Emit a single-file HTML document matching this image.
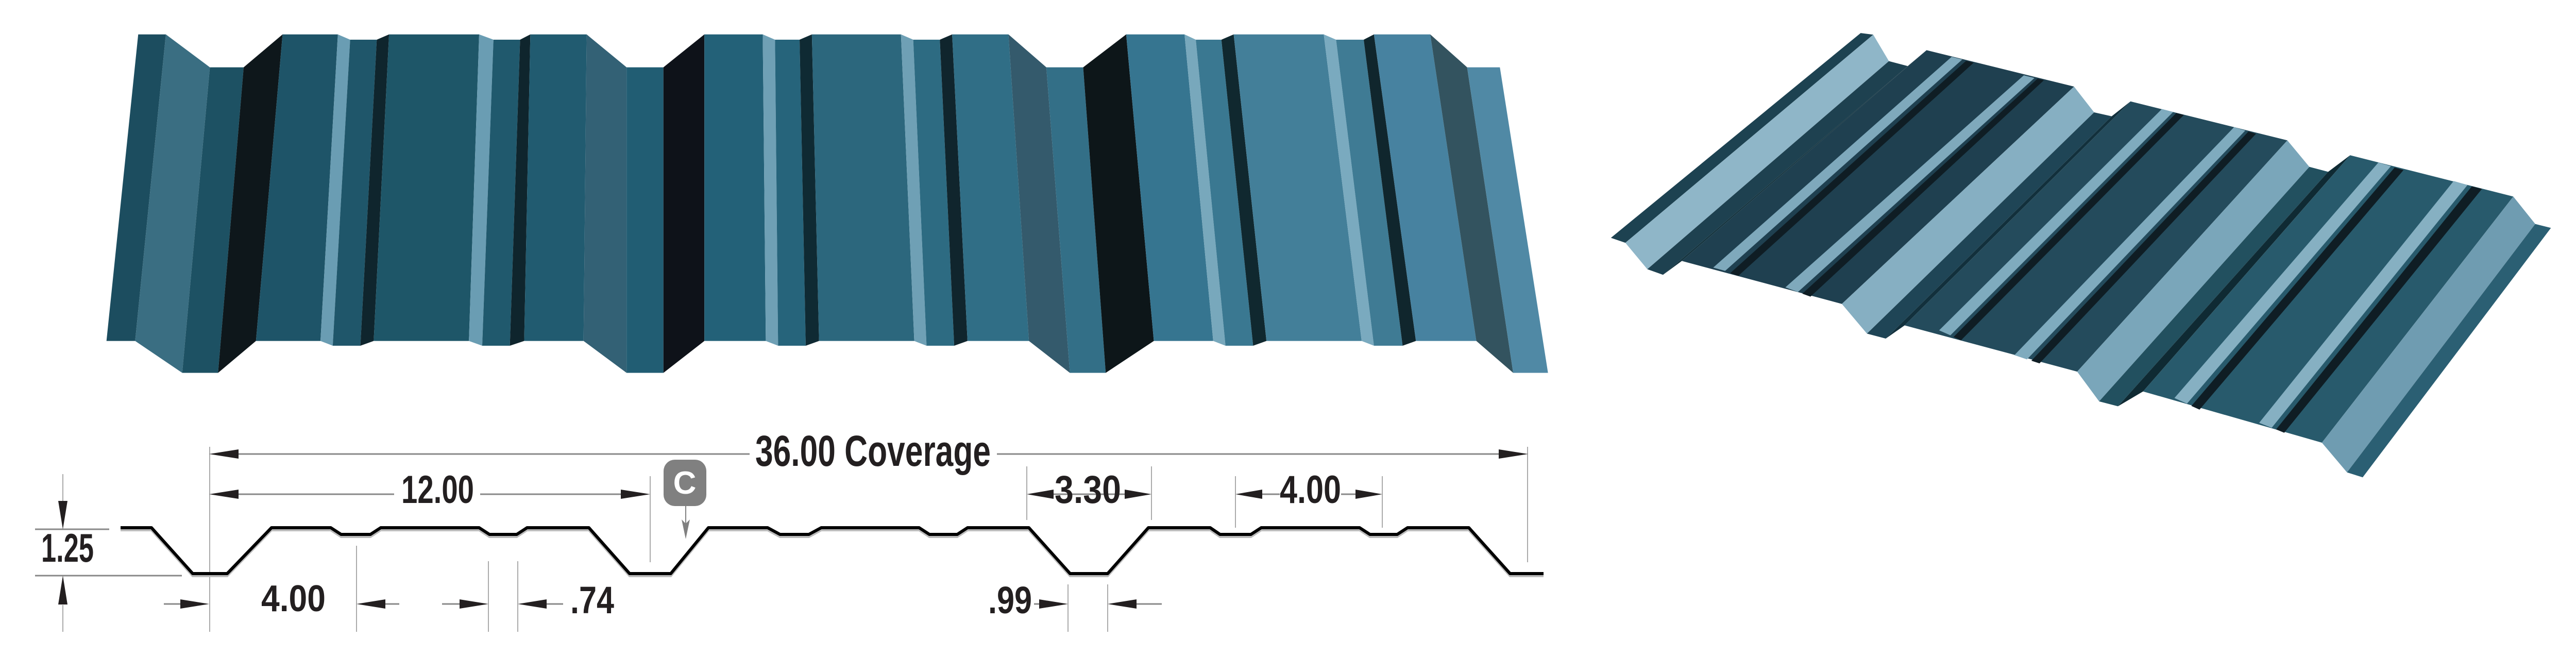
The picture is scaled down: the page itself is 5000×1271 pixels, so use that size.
<!DOCTYPE html>
<html><head><meta charset="utf-8"><style>
html,body{margin:0;padding:0;background:#fff;}
svg{display:block;}
text{font-family:"Liberation Sans Narrow","Liberation Sans",sans-serif;font-weight:bold;fill:#231f20;}
</style></head><body>
<svg width="5000" height="1271" viewBox="0 0 5000 1271" xmlns="http://www.w3.org/2000/svg">
<rect width="5000" height="1271" fill="#fff"/>
<!-- LEFT PANEL -->
<g transform="scale(1.9872,0.4872)">
<polygon points="135,137 162,137 132,1358 104,1358" fill="#1c4d5f"/>
<polygon points="162,137 205,268 178,1485 132,1358" fill="#3a6e82"/>
<polygon points="205,268 238,268 213,1485 178,1485" fill="#1d5163"/>
<polygon points="238,268 276,137 250,1358 213,1485" fill="#0e171b"/>
<polygon points="276,137 330,137 313,1358 250,1358" fill="#1e5468"/>
<polygon points="330,137 342,158 325,1377 313,1358" fill="#6a9db3"/>
<polygon points="342,158 368,158 352,1377 325,1377" fill="#1f566a"/>
<polygon points="368,158 380,137 365,1358 352,1377" fill="#0f252d"/>
<polygon points="380,137 468,137 458,1358 365,1358" fill="#1e5668"/>
<polygon points="468,137 482,158 471,1377 458,1358" fill="#6a9db3"/>
<polygon points="482,158 508,158 498,1377 471,1377" fill="#20596d"/>
<polygon points="508,158 518,137 512,1358 498,1377" fill="#0f252d"/>
<polygon points="518,137 573,137 570,1358 512,1358" fill="#215b70"/>
<polygon points="573,137 612,268 612,1485 570,1358" fill="#336175"/>
<polygon points="612,268 648,268 648,1485 612,1485" fill="#215d73"/>
<polygon points="648,268 688,137 688,1358 648,1485" fill="#0e1219"/>
<polygon points="688,137 745,137 748,1358 688,1358" fill="#236178"/>
<polygon points="745,137 757,158 760,1377 748,1358" fill="#6fa0b5"/>
<polygon points="757,158 781,158 787,1377 760,1377" fill="#26647b"/>
<polygon points="781,158 793,137 800,1358 787,1377" fill="#0f2a33"/>
<polygon points="793,137 880,137 893,1358 800,1358" fill="#2c677d"/>
<polygon points="880,137 892,158 905,1377 893,1358" fill="#6fa0b5"/>
<polygon points="892,158 918,158 932,1377 905,1377" fill="#2d6b82"/>
<polygon points="918,158 930,137 945,1358 932,1377" fill="#10252d"/>
<polygon points="930,137 985,137 1005,1358 945,1358" fill="#306e86"/>
<polygon points="985,137 1022,268 1045,1485 1005,1358" fill="#345a6c"/>
<polygon points="1022,268 1058,268 1080,1485 1045,1485" fill="#336f87"/>
<polygon points="1058,268 1100,137 1127,1358 1080,1485" fill="#0d1619"/>
<polygon points="1100,137 1157,137 1185,1358 1127,1358" fill="#367590"/>
<polygon points="1157,137 1168,158 1197,1377 1185,1358" fill="#78a8bc"/>
<polygon points="1168,158 1193,158 1224,1377 1197,1377" fill="#3a7891"/>
<polygon points="1193,158 1205,137 1237,1358 1224,1377" fill="#10282f"/>
<polygon points="1205,137 1293,137 1330,1358 1237,1358" fill="#437f99"/>
<polygon points="1293,137 1305,158 1342,1377 1330,1358" fill="#7aaabf"/>
<polygon points="1305,158 1332,158 1370,1377 1342,1377" fill="#3f7b94"/>
<polygon points="1332,158 1342,137 1383,1358 1370,1377" fill="#10262d"/>
<polygon points="1342,137 1397,137 1442,1358 1383,1358" fill="#4782a0"/>
<polygon points="1397,137 1433,268 1478,1485 1442,1358" fill="#33535f"/>
<polygon points="1433,268 1465,268 1512,1485 1478,1485" fill="#5089a5"/>
</g>

<!-- PROFILE DRAWING -->
<g stroke="#aaa" stroke-width="2">
<line x1="407" y1="867" x2="407" y2="1226"/>
<line x1="2965" y1="867" x2="2965" y2="1091"/>
<line x1="1262" y1="924" x2="1262" y2="1091"/>
<line x1="1993" y1="905" x2="1993" y2="1009"/>
<line x1="2235" y1="905" x2="2235" y2="1009"/>
<line x1="2398" y1="924" x2="2398" y2="1024"/>
<line x1="2683" y1="924" x2="2683" y2="1024"/>
<line x1="692" y1="1059" x2="692" y2="1226"/>
<line x1="948" y1="1089" x2="948" y2="1226"/>
<line x1="1005" y1="1089" x2="1005" y2="1226"/>
<line x1="2073" y1="1134" x2="2073" y2="1226"/>
<line x1="2150" y1="1134" x2="2150" y2="1226"/>
<line x1="122" y1="920" x2="122" y2="972"/>
<line x1="122" y1="1174" x2="122" y2="1226"/>
</g>
<g stroke="#888" stroke-width="3">
<line x1="68" y1="1027" x2="212" y2="1027"/>
<line x1="68" y1="1117" x2="353" y2="1117"/>
<line x1="122" y1="972" x2="122" y2="1000"/>
<line x1="440" y1="881" x2="1455" y2="881"/>
<line x1="1935" y1="881" x2="2930" y2="881"/>
<line x1="440" y1="959" x2="765" y2="959"/>
<line x1="932" y1="959" x2="1230" y2="959"/>
<line x1="2040" y1="959" x2="2190" y2="959"/>
<line x1="2440" y1="959" x2="2484" y2="959"/>
<line x1="2603" y1="959" x2="2650" y2="959"/>
<line x1="318" y1="1172" x2="360" y2="1172"/>
<line x1="740" y1="1172" x2="775" y2="1172"/>
<line x1="858" y1="1172" x2="900" y2="1172"/>
<line x1="1050" y1="1172" x2="1093" y2="1172"/>
<line x1="2007" y1="1172" x2="2030" y2="1172"/>
<line x1="2195" y1="1172" x2="2255" y2="1172"/>
</g>
<g fill="#231f20">
<polygon points="122,1027 113,972 131,972"/>
<polygon points="122,1117 113,1173 131,1173"/>
<polygon points="406,881 463,872 463,890"/>
<polygon points="2966,881 2909,872 2909,890"/>
<polygon points="406,959 463,950 463,968"/>
<polygon points="1262,959 1205,950 1205,968"/>
<polygon points="1993,959 2045,950 2045,968"/>
<polygon points="2235,959 2183,950 2183,968"/>
<polygon points="2398,959 2450,950 2450,968"/>
<polygon points="2683,959 2631,950 2631,968"/>
<polygon points="406,1172 350,1163 350,1181"/>
<polygon points="692,1172 748,1163 748,1181"/>
<polygon points="948,1172 892,1163 892,1181"/>
<polygon points="1005,1172 1061,1163 1061,1181"/>
<polygon points="2073,1172 2017,1163 2017,1181"/>
<polygon points="2150,1172 2206,1163 2206,1181"/>
</g>
<path d="M234,1029 L294,1029 L374,1118 L441,1118 L527,1029 L642,1029 L662,1042 L719,1042 L739,1029 L930,1029 L950,1042 L1003,1042 L1023,1029 L1143,1029 L1222,1118 L1302,1118 L1375,1029 L1490,1029 L1514,1042 L1570,1042 L1594,1029 L1784,1029 L1804,1042 L1858,1042 L1878,1029 L1997,1029 L2077,1118 L2150,1118 L2229,1029 L2349,1029 L2368,1042 L2428,1042 L2448,1029 L2639,1029 L2659,1042 L2712,1042 L2732,1029 L2851,1029 L2931,1118 L2996,1118" fill="none" stroke="#bbb" stroke-width="4"/>
<path d="M234,1024 L294,1024 L374,1113 L441,1113 L527,1024 L642,1024 L662,1037 L719,1037 L739,1024 L930,1024 L950,1037 L1003,1037 L1023,1024 L1143,1024 L1222,1113 L1302,1113 L1375,1024 L1490,1024 L1514,1037 L1570,1037 L1594,1024 L1784,1024 L1804,1037 L1858,1037 L1878,1024 L1997,1024 L2077,1113 L2150,1113 L2229,1024 L2349,1024 L2368,1037 L2428,1037 L2448,1024 L2639,1024 L2659,1037 L2712,1037 L2732,1024 L2851,1024 L2931,1113 L2996,1113" fill="none" stroke="#000" stroke-width="6" stroke-linejoin="round"/>
<!-- C badge -->
<rect x="1288" y="892" width="83" height="90" rx="22" fill="#808080"/>
<text x="1329" y="958" font-size="62" text-anchor="middle" style="fill:#fff;font-family:'Liberation Sans',sans-serif">C</text>
<line x1="1331" y1="982" x2="1331" y2="1020" stroke="#808080" stroke-width="2"/>
<polygon points="1331,1046 1323,1008 1331,1016 1339,1008" fill="#808080"/>
<!-- labels -->
<text x="1466" y="904" font-size="84" textLength="457" lengthAdjust="spacingAndGlyphs">36.00 Coverage</text>
<text x="779" y="976" font-size="76" textLength="141" lengthAdjust="spacingAndGlyphs">12.00</text>
<text x="2047" y="976" font-size="76" textLength="129" lengthAdjust="spacingAndGlyphs">3.30</text>
<text x="2484" y="976" font-size="76" textLength="119" lengthAdjust="spacingAndGlyphs">4.00</text>
<text x="80" y="1090" font-size="78" textLength="102" lengthAdjust="spacingAndGlyphs">1.25</text>
<text x="507" y="1186" font-size="72" textLength="125" lengthAdjust="spacingAndGlyphs">4.00</text>
<text x="1107" y="1190" font-size="74" textLength="85" lengthAdjust="spacingAndGlyphs">.74</text>
<text x="1918" y="1190" font-size="74" textLength="85" lengthAdjust="spacingAndGlyphs">.99</text>

<!-- RIGHT PANEL -->
<g transform="translate(3100,0) scale(1.218,0.641)">
<polygon points="420,100 440,105 45,735 22,720" fill="#1d4251"/>
<polygon points="440,105 465,185 80,815 45,735" fill="#8fb6c8"/>
<polygon points="465,185 495,200 105,832 80,815" fill="#1e4150"/>
<polygon points="495,200 525,152 135,790 105,832" fill="#163540"/>
<polygon points="525,152 760,262 390,920 135,790" fill="#1f4050"/>
<polygon points="565,172 582,180 204,820 185,810" fill="#7fa9bc"/>
<polygon points="588,184 600,190 225,835 212,827" fill="#0f1d24"/>
<polygon points="680,228 697,236 320,884 300,870" fill="#7fa9bc"/>
<polygon points="702,238 712,243 340,898 327,889" fill="#0f1d24"/>
<polygon points="760,262 792,340 430,1010 390,920" fill="#86afc2"/>
<polygon points="792,340 820,352 460,1025 430,1010" fill="#1f4556"/>
<polygon points="820,352 850,307 490,985 460,1025" fill="#12303c"/>
<polygon points="850,307 1100,425 765,1125 490,985" fill="#244b5c"/>
<polygon points="900,330 918,339 563,1015 545,1000" fill="#7fabbe"/>
<polygon points="923,342 935,348 580,1030 568,1020" fill="#0f1d24"/>
<polygon points="1015,385 1033,395 685,1088 665,1075" fill="#7fabbe"/>
<polygon points="1038,398 1050,405 705,1100 692,1092" fill="#0f1d24"/>
<polygon points="1100,425 1135,505 800,1215 765,1125" fill="#7aa6ba"/>
<polygon points="1135,505 1165,520 830,1230 800,1215" fill="#22505f"/>
<polygon points="1165,520 1200,470 870,1185 830,1230" fill="#0f2a33"/>
<polygon points="1200,470 1460,595 1155,1340 870,1185" fill="#285a6c"/>
<polygon points="1245,492 1265,503 940,1222 920,1205" fill="#86b0c2"/>
<polygon points="1271,507 1285,515 960,1240 947,1229" fill="#0f1d24"/>
<polygon points="1365,548 1387,560 1075,1295 1055,1280" fill="#86b0c2"/>
<polygon points="1394,564 1410,572 1095,1310 1082,1300" fill="#0f1d24"/>
<polygon points="1460,595 1495,678 1195,1430 1155,1340" fill="#6f9cb1"/>
<polygon points="1495,678 1520,690 1220,1445 1195,1430" fill="#2b5f73"/>
</g>
</svg>
</body></html>
